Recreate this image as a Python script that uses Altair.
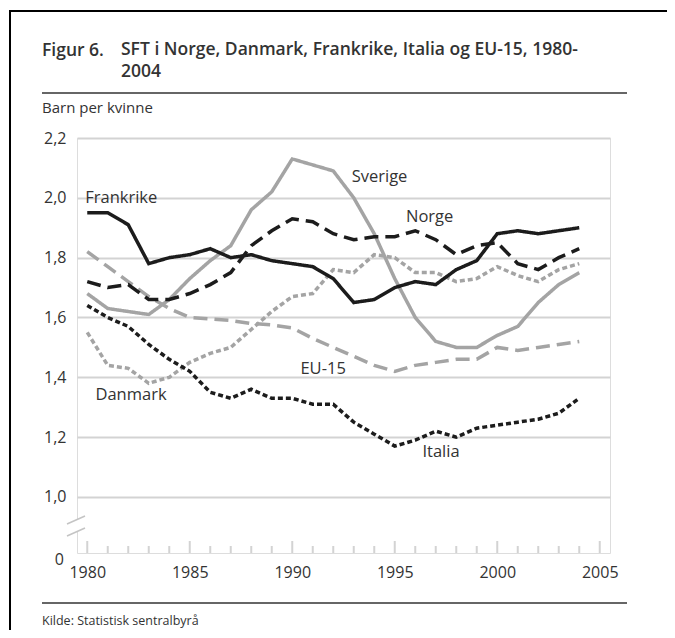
import altair as alt
import pandas as pd

years = list(range(1980, 2005))
frankrike = [1.95, 1.95, 1.91, 1.78, 1.80, 1.81, 1.83, 1.80, 1.81, 1.79, 1.78, 1.77, 1.73,
             1.65, 1.66, 1.70, 1.72, 1.71, 1.76, 1.79, 1.88, 1.89, 1.88, 1.89, 1.90]
norge = [1.72, 1.70, 1.71, 1.66, 1.66, 1.68, 1.71, 1.75, 1.84, 1.89, 1.93, 1.92, 1.88,
         1.86, 1.87, 1.87, 1.89, 1.86, 1.81, 1.84, 1.85, 1.78, 1.76, 1.80, 1.83]
sverige = [1.68, 1.63, 1.62, 1.61, 1.66, 1.73, 1.79, 1.84, 1.96, 2.02, 2.13, 2.11, 2.09,
           2.00, 1.88, 1.73, 1.60, 1.52, 1.50, 1.50, 1.54, 1.57, 1.65, 1.71, 1.75]
eu15 = [1.82, 1.77, 1.72, 1.67, 1.63, 1.60, 1.595, 1.59, 1.58, 1.575, 1.565, 1.53, 1.50,
        1.47, 1.44, 1.42, 1.44, 1.45, 1.46, 1.46, 1.50, 1.49, 1.50, 1.51, 1.52]
danmark = [1.55, 1.44, 1.43, 1.38, 1.40, 1.45, 1.48, 1.50, 1.56, 1.62, 1.67, 1.68, 1.76,
           1.75, 1.81, 1.80, 1.75, 1.75, 1.72, 1.73, 1.77, 1.74, 1.72, 1.76, 1.78]
italia = [1.64, 1.60, 1.57, 1.51, 1.46, 1.42, 1.35, 1.33, 1.36, 1.33, 1.33, 1.31, 1.31,
          1.25, 1.21, 1.17, 1.19, 1.22, 1.20, 1.23, 1.24, 1.25, 1.26, 1.28, 1.33]

series_names = ["Sverige", "EU-15", "Danmark", "Norge", "Italia", "Frankrike"]
series_values = [sverige, eu15, danmark, norge, italia, frankrike]
series_colors = ["#a4a4a4", "#a4a4a4", "#a4a4a4", "#1c1c1c", "#1c1c1c", "#1c1c1c"]
series_dash = [[1, 0], [14, 7], [5, 3], [14, 7], [5, 3], [1, 0]]

x_tick_labels = [1980, 1985, 1990, 1995, 2000, 2005]
y_tick_values = [1.0, 1.2, 1.4, 1.6, 1.8, 2.0, 2.2]
minor_ticks = [y for y in range(1980, 2006) if y % 5 != 0]
major_ticks = x_tick_labels

# label anchors (year, value) for the series names
label_names = ["Frankrike", "Sverige", "Norge", "EU-15", "Danmark", "Italia"]
label_x = [1979.9, 1992.9, 1995.55, 1990.4, 1980.4, 1996.35]
label_y = [2.0, 2.07, 1.936, 1.428, 1.341, 1.15]

rows = []
for name, vals in zip(series_names, series_values):
    for yr, v in zip(years, vals):
        rows.append({"year": yr, "value": v, "country": name})
df = pd.DataFrame(rows)
labels_df = pd.DataFrame({"name": label_names, "year": label_x, "value": label_y})

W, H = 533, 415
FONT = "Open Sans"
TXT = "#333333"
GRID = "#d3d3d3"

xscale = alt.Scale(domain=[1979.5, 2005.5], nice=False, zero=False)
yscale = alt.Scale(domain=[0.8127, 2.2], nice=False, zero=False)

x_axis = alt.Axis(values=x_tick_labels, format="d", title=None, ticks=False,
                  domain=False, grid=False, labelFontSize=16, labelFont=FONT,
                  labelColor=TXT, labelPadding=11)
y_axis = alt.Axis(values=y_tick_values, title=None, ticks=False, domain=False,
                  grid=True, gridColor=GRID, gridWidth=2,
                  labelExpr="replace(format(datum.value, '.1f'), '.', ',')",
                  labelFontSize=16, labelFont=FONT, labelColor=TXT, labelPadding=11)


def X(field="year:Q"):
    return alt.X(field, scale=xscale, axis=x_axis)


def Y(field="value:Q"):
    return alt.Y(field, scale=yscale, axis=y_axis)


lines = alt.Chart(df).mark_line(strokeWidth=3.5, strokeJoin="miter").encode(
    x=X(), y=Y(),
    color=alt.Color("country:N", scale=alt.Scale(domain=series_names, range=series_colors),
                    legend=None),
    strokeDash=alt.StrokeDash("country:N", scale=alt.Scale(domain=series_names,
                                                           range=series_dash), legend=None),
    order=alt.Order("year:Q"),
)

labels = alt.Chart(labels_df).mark_text(align="left", baseline="middle", fontSize=16.5,
                                        font=FONT, color=TXT).encode(
    x=X(), y=Y(), text="name:N",
)

tick_df_minor = pd.DataFrame({"year": minor_ticks})
tick_df_major = pd.DataFrame({"year": major_ticks})
ticks_minor = alt.Chart(tick_df_minor).mark_rule(color=GRID, strokeWidth=2).encode(
    x=X(), y=alt.value(H), y2=alt.value(H - 7))
ticks_major = alt.Chart(tick_df_major).mark_rule(color=GRID, strokeWidth=2).encode(
    x=X(), y=alt.value(H), y2=alt.value(H - 12))


def rule(x1, y1, x2, y2, color, width):
    return alt.Chart(pd.DataFrame({"k": [0]})).mark_rule(color=color, strokeWidth=width).encode(
        x=alt.value(x1), y=alt.value(y1), x2=alt.value(x2), y2=alt.value(y2))


def box(x1, y1, x2, y2, color):
    return alt.Chart(pd.DataFrame({"k": [0]})).mark_rect(color=color).encode(
        x=alt.value(x1), y=alt.value(y1), x2=alt.value(x2), y2=alt.value(y2))


def text(s, x, y, size, weight="normal", align="left", baseline="middle"):
    return alt.Chart(pd.DataFrame({"k": [0]})).mark_text(
        text=s, fontSize=size, font=FONT, fontWeight=weight, color=TXT, align=align,
        baseline=baseline).encode(x=alt.value(x), y=alt.value(y))


decor = [
    box(-4, 382, 4, 394, "white"),
    rule(-10, 386, 8, 378, "#c4c4c4", 1.6),
    rule(-10, 398, 8, 390, "#c4c4c4", 1.6),
    text("0", -13, 422, 16, align="right"),
    # frame of the figure (top and left edges)
    box(-68, -128, 590, -126, "#000000"),
    box(-68, -128, -66, 492, "#000000"),
    # title
    text("Figur 6.", -35, -87, 17.5, weight=600),
    text("SFT i Norge, Danmark, Frankrike, Italia og EU-15, 1980-", 44, -88, 17.5, weight=600),
    text("2004", 44, -66, 17.5, weight=600),
    box(-35, -45.75, 550, -44.25, "#333333"),
    text("Barn per kvinne", -35, -30, 15),
    box(-35, 464.25, 550, 465.75, "#333333"),
    text("Kilde: Statistisk sentralbyrå", -35, 483, 12.5),
]

chart = alt.layer(ticks_minor, ticks_major, lines, labels, *decor).properties(
    width=W, height=H,
    autosize=alt.AutoSizeParams(type="none"),
    padding={"left": 69, "top": 130, "right": 57, "bottom": 77},
).configure_view(stroke=GRID, strokeWidth=2).configure(background="white")

chart.save("out.html", embed_options={"renderer": "svg", "actions": False})
